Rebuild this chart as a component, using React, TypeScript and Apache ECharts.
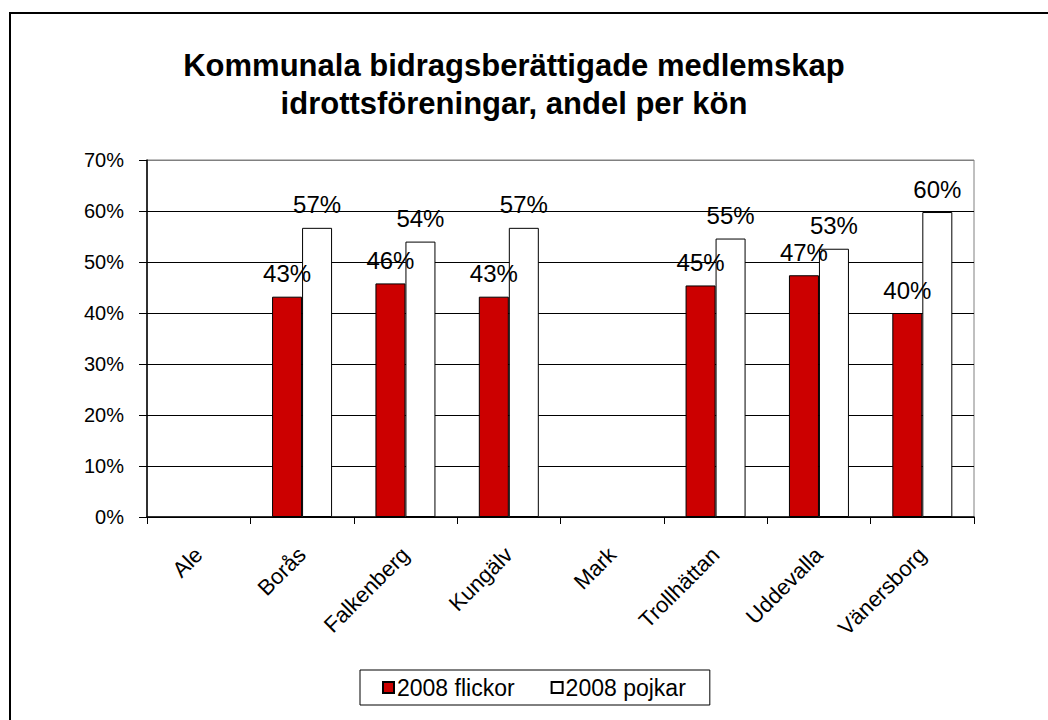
import React, { useEffect, useRef } from "react";
import * as echarts from "echarts";

const titleText = "Kommunala bidragsberättigade medlemskap\nidrottsföreningar, andel per kön";
const categories = ["Ale", "Borås", "Falkenberg", "Kungälv", "Mark", "Trollhättan", "Uddevalla", "Vänersborg"];
const flickor: (number | null)[] = [null, 43.2, 45.8, 43.2, null, 45.4, 47.4, 40.0];
const pojkar: (number | null)[] = [null, 56.7, 54.0, 56.7, null, 54.6, 52.6, 59.8];
const seriesNames = ["2008 flickor", "2008 pojkar"];
const yTicks = [0, 10, 20, 30, 40, 50, 60, 70];

const FONT = "'Liberation Sans', Arial, sans-serif";

export default function App() {
  const ref = useRef<HTMLDivElement>(null);
  useEffect(() => {
    if (!ref.current) return;
    const chart = echarts.init(ref.current, undefined, { renderer: "svg" });
    const labelCfg = {
      show: true,
      position: "top" as const,
      distance: 11,
      fontSize: 24,
      fontFamily: FONT,
      color: "#000",
      formatter: (p: any) => Math.round(p.value) + "%",
    };
    chart.setOption({
      animation: false,
      backgroundColor: "#fff",
      title: {
        text: titleText,
        left: 509,
        top: 41,
        textAlign: "center",
        textStyle: { fontSize: 31, fontWeight: "bold", fontFamily: FONT, lineHeight: 38, color: "#000" },
      },
      graphic: [
        {
          type: "rect",
          z: -10,
          shape: { x: 10, y: 13, width: 1100, height: 800 },
          style: { fill: "none", stroke: "#000", lineWidth: 2 },
        },
      ],
      legend: {
        data: seriesNames,
        left: 360,
        top: 670,
        orient: "horizontal",
        itemWidth: 11,
        itemHeight: 11,
        itemGap: 36,
        icon: "rect",
        padding: [6, 24, 6, 22],
        borderColor: "#000",
        borderWidth: 1,
        textStyle: { fontSize: 23, fontFamily: FONT, color: "#000", padding: [0, 0, 0, -2] },
      },
      grid: {
        left: 147,
        right: 74,
        top: 160,
        bottom: 203,
        show: true,
        borderColor: "#808080",
        borderWidth: 1,
      },
      xAxis: {
        type: "category",
        data: categories,
        axisLine: { lineStyle: { color: "#000", width: 1.5 } },
        axisTick: { show: true, length: 7, lineStyle: { color: "#000" } },
        axisLabel: {
          rotate: 45,
          margin: 34,
          fontSize: 22,
          fontFamily: FONT,
          color: "#000",
          interval: 0,
        },
      },
      yAxis: {
        type: "value",
        min: 0,
        max: 70,
        interval: 10,
        axisLine: { show: true, lineStyle: { color: "#000", width: 1.5 } },
        axisTick: { show: true, length: 8, lineStyle: { color: "#000" } },
        axisLabel: {
          margin: 23,
          fontSize: 20,
          fontFamily: FONT,
          color: "#000",
          formatter: (v: number) => (yTicks.includes(v) ? v + "%" : ""),
        },
        splitLine: {
          show: true,
          lineStyle: { color: ["#000", "#000", "#000", "#000", "#000", "#000", "#000", "#808080"], width: 1 },
        },
      },
      series: [
        {
          name: seriesNames[0],
          type: "bar",
          data: flickor,
          barWidth: 30,
          barGap: "0%",
          itemStyle: { color: "#CC0000", borderColor: "#000", borderWidth: 1 },
          label: labelCfg,
        },
        {
          name: seriesNames[1],
          type: "bar",
          data: pojkar,
          barWidth: 30,
          barGap: "0%",
          itemStyle: { color: "#FFFFFF", borderColor: "#000", borderWidth: 1 },
          label: labelCfg,
        },
      ],
    });
    return () => chart.dispose();
  }, []);
  return (
    <div
      ref={ref}
      style={{ position: "absolute", left: 0, top: 0, width: 1048, height: 720 }}
    />
  );
}
